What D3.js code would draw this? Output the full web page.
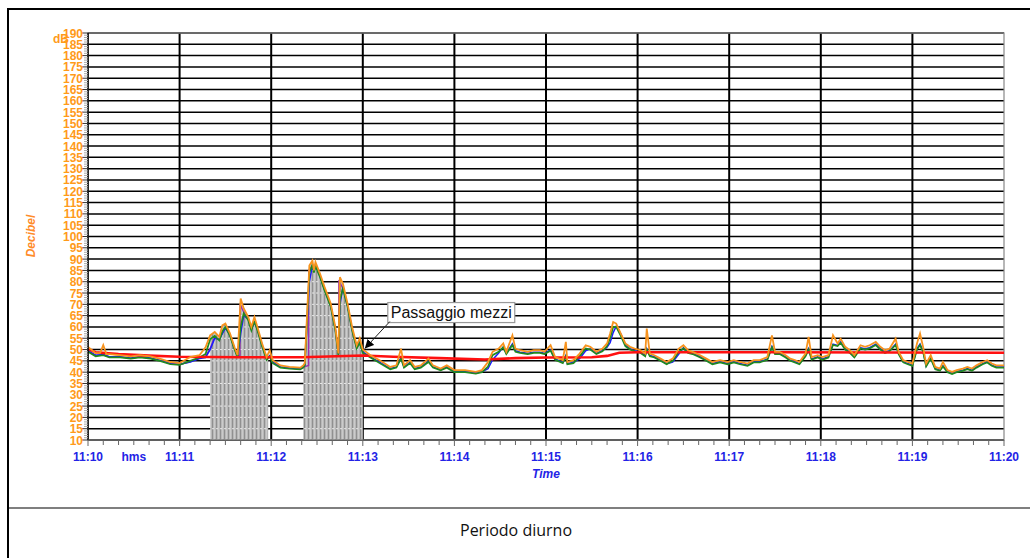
<!DOCTYPE html>
<html><head><meta charset="utf-8">
<script src="https://cdn.jsdelivr.net/npm/d3@7"></script>
<style>body{margin:0;background:#fff} svg{display:block}</style>
</head><body><svg id="c" width="1030" height="558"></svg>
<script>
// ---- data (seconds after 11:10:00, dB) ----
const orangeSeries = [[0,51.2],[5,48.4],[8,48.5],[10,52],[12,48],[14,48],[21,47.5],[28,47],[34,47.5],[41,47],[47,46],[54,44.5],[60,44],[67,46.7],[73,47.5],[77,51],[80,56.3],[83,57.8],[86,55.6],[88,60.7],[90,61.5],[93,57.2],[96,51],[98,47.5],[100,72.6],[102,68.2],[105,64.4],[107,60],[109,64.4],[111,60],[114,52.8],[117,46.7],[119,49.7],[121,45.3],[126,43],[132,42.3],[139,42],[141,43],[142,44],[145,87.2],[147,89.4],[148,85],[149,88.7],[152,83.5],[155,77.6],[159,70.4],[162,60],[164,48.3],[165,82],[167,79.1],[170,70.4],[173,60],[176,51.9],[178,55],[180,50],[185,47.5],[191,45.3],[198,42.3],[202,43],[205,50.4],[207,43],[211,45.3],[214,42.3],[218,43],[223,46],[226,43],[231,41.6],[235,43],[240,40.9],[247,40.9],[254,40.1],[258,40.9],[262,44.5],[265,49],[269,50.4],[272,52.7],[274,49],[278,56.3],[280,50.4],[283,49.7],[288,49],[292,49.7],[296,49.7],[299,49],[303,51.9],[306,46.7],[311,45.3],[313,53.4],[314,44.5],[318,45.3],[322,48.2],[326,51.9],[329,51.2],[333,49],[337,50.4],[340,52.7],[342,57.1],[344,62.2],[346,61.5],[349,57.1],[352,52.7],[355,51.2],[358,50.4],[362,49.7],[365,48.2],[366,59.3],[368,48.2],[371,47.5],[375,46],[379,44.5],[383,46],[387,50.4],[390,51.9],[393,49.7],[396,49],[401,47.5],[405,46],[409,44.5],[414,45.3],[419,44.5],[423,45.3],[427,44.5],[432,43.8],[436,45.3],[440,45.3],[445,46.7],[448,56.3],[450,49],[453,49],[457,47.5],[460,46],[463,45.3],[466,44.5],[470,48.2],[472,55.6],[474,46.7],[478,47.5],[481,46.7],[485,47.5],[488,56.3],[491,52.7],[493,54.8],[496,51.2],[499,49.7],[502,47.5],[506,51.9],[509,51.2],[512,51.9],[516,53.4],[519,51.2],[522,49.7],[525,50.4],[529,54.8],[531,49],[534,45.3],[537,44.5],[540,43.8],[543,52.7],[545,57.1],[547,51.2],[549,43.8],[552,47.5],[555,42.3],[558,41.6],[560,44.5],[563,40.9],[566,40.1],[569,40.9],[573,41.6],[576,42.3],[579,41.6],[582,43],[586,44.5],[589,45.3],[592,43.8],[595,43],[600,43]];

const greenSeries = [[0,49],[5,47],[10,47.5],[14,46.5],[21,46.5],[28,46],[34,46.5],[41,46],[47,45],[54,43.5],[60,43.2],[67,45],[73,46.5],[77,48],[80,54.5],[83,56],[86,54],[88,58],[90,60],[93,56],[96,50],[98,46.5],[100,60],[102,66],[105,63],[107,58.5],[109,62.5],[111,58.5],[114,51.5],[117,45.5],[119,47],[121,44],[126,42],[132,41.5],[139,41.2],[141,42],[142,43],[145,84],[147,87.5],[148,84],[149,87],[152,82],[155,76],[159,69],[162,58.5],[164,47.5],[165,72],[167,77],[170,69],[173,58.5],[176,50.5],[178,53],[180,48.5],[185,46.5],[191,44],[198,41.3],[202,42],[205,46],[207,42],[211,44],[214,41.3],[218,42],[223,44.5],[226,42],[231,40.8],[235,42],[240,40],[247,40],[254,39.3],[258,40],[262,42.5],[265,47.5],[269,49],[272,51],[274,48],[278,52],[280,49],[283,48.5],[288,48],[292,48.5],[296,48.5],[299,48],[303,49.5],[306,45.5],[311,44],[313,47],[314,43.5],[318,44],[322,47],[326,50.5],[329,50],[333,48],[337,49.2],[340,51.5],[342,55],[344,60],[346,60],[349,56],[352,51.5],[355,50],[358,49.2],[362,48.5],[365,47],[366,50],[368,47],[371,46.5],[375,45],[379,43.5],[383,45],[387,49],[390,50.5],[393,48.5],[396,48],[401,46.5],[405,45],[409,43.5],[414,44.3],[419,43.5],[423,44.3],[427,43.5],[432,42.8],[436,44.3],[440,44.3],[445,45.5],[448,51],[450,48],[453,48],[457,46.5],[460,45],[463,44.3],[466,43.5],[470,47],[472,50],[474,45.5],[478,46.5],[481,45.5],[485,46.5],[488,52],[491,51.5],[493,53],[496,50],[499,48.5],[502,46.5],[506,50.5],[509,50],[512,50.5],[516,52],[519,50],[522,48.5],[525,49.2],[529,52],[531,48],[534,44.3],[537,43.5],[540,42.8],[543,50],[545,52],[547,49],[549,42.5],[552,46],[555,41.3],[558,40.6],[560,42.5],[563,40],[566,39.2],[569,40],[573,40.6],[576,41.3],[579,40.6],[582,42],[586,43.5],[589,44.3],[592,42.8],[595,42],[600,42]];

const blueSeries = [[0,49.5],[5,47.5],[10,47.8],[14,46.8],[21,46.8],[28,46.3],[34,46.8],[41,46.3],[47,45.3],[54,43.8],[60,43.5],[67,44.5],[73,46],[77,46.5],[80,50],[83,55],[86,54.5],[88,57],[90,59.5],[93,56.5],[96,50.5],[98,47],[100,57],[102,65],[105,63.5],[107,59],[109,62],[111,59],[114,52],[117,46],[119,47.3],[121,44.5],[126,42.3],[132,41.8],[139,41.5],[141,42.3],[142,43.2],[145,80],[147,87],[148,84.5],[149,87.3],[152,82.5],[155,76.5],[159,69.5],[162,59],[164,47.8],[165,70],[167,77.5],[170,69.5],[173,59],[176,51],[178,53.5],[180,49],[185,46.8],[191,44.4],[198,41.6],[202,42.3],[205,46.5],[207,42.3],[211,44.4],[214,41.6],[218,42.3],[223,44.8],[226,42.3],[231,41.1],[235,42.3],[240,40.3],[247,40.3],[254,39.6],[258,40.2],[262,41.5],[265,45.5],[269,48.5],[272,51.2],[274,48.4],[278,52.5],[280,49.4],[283,48.8],[288,48.4],[292,48.8],[296,48.8],[299,48.4],[303,49.8],[306,45.8],[311,44.3],[313,47.4],[314,43.8],[318,44.3],[322,46],[326,49.5],[329,50.3],[333,48.4],[337,49.5],[340,51],[342,53],[344,57.5],[346,60.3],[349,57],[352,52],[355,50.4],[358,49.5],[362,48.8],[365,47.4],[366,50.4],[368,47.4],[371,46.8],[375,45.3],[379,43.8],[383,44.5],[387,48],[390,50.8],[393,48.8],[396,48.4],[401,46.8],[405,45.3],[409,43.8],[414,44.6],[419,43.8],[423,44.6],[427,43.8],[432,43.1],[436,44.6],[440,44.6],[445,45.8],[448,51.4],[450,48.4],[453,48.4],[457,46.8],[460,45.3],[463,44.6],[466,43.8],[470,47.4],[472,50.4],[474,45.8],[478,46.8],[481,45.8],[485,46.8],[488,52.4],[491,51.8],[493,53.4],[496,50.4],[499,48.8],[502,46.8],[506,50.8],[509,50.4],[512,50.8],[516,52.4],[519,50.4],[522,48.8],[525,49.5],[529,52.4],[531,48.4],[534,44.6],[537,43.8],[540,43.1],[543,50.4],[545,52.4],[547,49.4],[549,42.8],[552,46.4],[555,41.6],[558,40.9],[560,42.8],[563,40.3],[566,39.5],[569,40.3],[573,40.9],[576,41.6],[579,40.9],[582,42.3],[586,43.8],[589,44.6],[592,43.1],[595,42.3],[600,42.3]];

const purpleSeries = [[0,49.3],[5,47.4],[10,47.7],[14,46.7],[21,46.7],[28,46.2],[34,46.7],[41,46.2],[47,45.2],[54,43.7],[60,43.4],[67,44.6],[73,46.2],[77,47],[80,50.5],[83,55.5],[86,54.3],[88,57.5],[90,59.8],[93,56.4],[96,50.4],[98,47.2],[99.5,47.5],[99.6,70],[102,66.5],[105,63.4],[107,59],[109,62.2],[111,59],[114,52],[117,46],[119,47.2],[121,44.4],[126,42.2],[132,41.8],[139,41.4],[141,42.2],[144.5,43],[144.6,85],[147,87.2],[149,87],[152,82.3],[155,76.3],[159,69.3],[162,59],[164.2,48],[164.3,80],[167,77.3],[170,69.5],[173,58.8],[176,50.8],[178,53.3],[180,49]];

const redSeries = [[0,50.3],[5,48.8],[20,48],[40,47.3],[60,46.8],[100,46.6],[140,46.6],[180,47.4],[200,46.8],[230,46.2],[260,45.6],[280,46.2],[300,46.5],[330,46.6],[340,47.2],[348,48.6],[360,48.8],[450,48.8],[600,48.6]];

const shadeRanges = [[80,118],[141,180]];

const xTickSeconds = [0,60,120,180,240,300,360,420,480,540,600];
const xTickLabels = ["11:10","11:11","11:12","11:13","11:14","11:15","11:16","11:17","11:18","11:19","11:20"];
const yTickValues = [10,15,20,25,30,35,40,45,50,55,60,65,70,75,80,85,90,95,100,105,110,115,120,125,130,135,140,145,150,155,160,165,170,175,180,185,190];

const annotation = {t:180, v:50, text:"Passaggio mezzi"};
const caption = "Periodo diurno";

// ---- drawing ----
const svg = d3.select("#c");
const L = 88, R = 1004, T = 33, B = 440;
const x = d3.scaleLinear().domain([0,600]).range([L,R]);
const y = d3.scaleLinear().domain([10,190]).range([B,T]);
const FONT = "Liberation Sans, Arial, sans-serif";

// outer frame
svg.append("line").attr("x1",8).attr("x2",1030).attr("y1",9).attr("y2",9).attr("stroke","#000").attr("stroke-width",2);
svg.append("line").attr("x1",8).attr("x2",8).attr("y1",8).attr("y2",558).attr("stroke","#000").attr("stroke-width",2);
svg.append("line").attr("x1",8).attr("x2",1030).attr("y1",508).attr("y2",508).attr("stroke","#000").attr("stroke-width",1.2);

const defs = svg.append("defs");
const pat = defs.append("pattern").attr("id","hatch").attr("patternUnits","userSpaceOnUse").attr("width",4).attr("height",3);
pat.append("rect").attr("width",4).attr("height",3).attr("fill","#b8b8b8");
pat.append("rect").attr("x",0).attr("width",1).attr("height",3).attr("fill","#909090");
pat.append("rect").attr("x",2).attr("width",1).attr("height",3).attr("fill","#cbcbcb");
defs.append("clipPath").attr("id","plotclip").append("rect").attr("x",L).attr("y",T).attr("width",R-L).attr("height",B-T);
const sc = defs.append("clipPath").attr("id","shadeclip");
shadeRanges.forEach(r=>sc.append("rect").attr("x",x(r[0])).attr("y",T).attr("width",x(r[1])-x(r[0])).attr("height",B-T));
const area = d3.area().x(d=>x(d[0])).y0(B).y1(d=>y(d[1]));
defs.append("clipPath").attr("id","areaclip").append("path").attr("d",area(orangeSeries));

// horizontal grid
svg.append("g").selectAll("line").data(yTickValues).join("line")
  .attr("x1",L).attr("x2",R).attr("y1",d=>y(d)).attr("y2",d=>y(d))
  .attr("stroke","#000").attr("stroke-width",1.5);
// vertical grid
svg.append("g").selectAll("line").data(xTickSeconds.slice(1,-1)).join("line")
  .attr("x1",d=>x(d)).attr("x2",d=>x(d)).attr("y1",T).attr("y2",B)
  .attr("stroke","#000").attr("stroke-width",2);
// plot border
svg.append("rect").attr("x",L).attr("y",T).attr("width",R-L).attr("height",B-T)
  .attr("fill","none").attr("stroke","#888").attr("stroke-width",1.2);

// shaded area under orange
const shade = svg.append("g").attr("clip-path","url(#shadeclip)");
shade.append("path").datum(orangeSeries).attr("d",area).attr("fill","url(#hatch)");
shade.append("g").attr("clip-path","url(#areaclip)").selectAll("line").data(yTickValues).join("line")
  .attr("x1",L).attr("x2",R).attr("y1",d=>y(d)).attr("y2",d=>y(d))
  .attr("stroke","#e8e8e8").attr("stroke-width",1).attr("stroke-dasharray","2,2");

const line = d3.line().x(d=>x(d[0])).y(d=>y(d[1]));
const g = svg.append("g").attr("clip-path","url(#plotclip)");
g.append("path").datum(purpleSeries).attr("d",line).attr("fill","none").attr("stroke","#9b30b0").attr("stroke-width",1.4);
g.append("path").datum(blueSeries).attr("d",line).attr("fill","none").attr("stroke","#1a1aff").attr("stroke-width",1.5);
g.append("path").datum(greenSeries).attr("d",line).attr("fill","none").attr("stroke","#1f8a1f").attr("stroke-width",1.7);
g.append("path").datum(redSeries).attr("d",line).attr("fill","none").attr("stroke","#ff1010").attr("stroke-width",2.6);
g.append("path").datum(orangeSeries).attr("d",line).attr("fill","none").attr("stroke","#f7931e").attr("stroke-width",1.8);

// y axis
svg.append("line").attr("x1",L).attr("x2",L).attr("y1",T).attr("y2",B).attr("stroke","#000").attr("stroke-width",1.6);
svg.append("g").selectAll("line").data(d3.range(10,191,1)).join("line")
  .attr("x1",d=>d%5===0?L-6:L-4).attr("x2",L).attr("y1",d=>y(d)).attr("y2",d=>y(d))
  .attr("stroke",d=>d%5===0?"#333":"#aaa").attr("stroke-width",1);
svg.append("g").selectAll("text").data(yTickValues).join("text")
  .attr("x",L-5).attr("y",d=>y(d)+4.5).attr("text-anchor","end")
  .attr("font-family",FONT).attr("font-weight","bold").attr("font-size",12)
  .attr("fill","#ff9a1a").text(d=>d);
svg.append("text").attr("x",61).attr("y",y(187.5)+4).attr("text-anchor","middle")
  .attr("font-family",FONT).attr("font-weight","bold").attr("font-size",12)
  .attr("fill","#ff9a1a").text("dB");
svg.append("text").attr("transform",`translate(35,236) rotate(-90)`).attr("text-anchor","middle")
  .attr("font-family",FONT).attr("font-weight","bold").attr("font-style","italic").attr("font-size",12)
  .attr("fill","#ff8c2a").text("Decibel");

// x axis
svg.append("line").attr("x1",L).attr("x2",R).attr("y1",B).attr("y2",B).attr("stroke","#555").attr("stroke-width",1.2);
svg.append("g").selectAll("line").data(d3.range(0,601,10)).join("line")
  .attr("x1",d=>x(d)).attr("x2",d=>x(d)).attr("y1",B).attr("y2",d=>d%60===0?B+6:B+5)
  .attr("stroke","#666").attr("stroke-width",1);
svg.append("g").selectAll("text").data(xTickSeconds).join("text")
  .attr("x",d=>x(d)).attr("y",B+21).attr("text-anchor","middle")
  .attr("font-family",FONT).attr("font-weight","bold").attr("font-size",12)
  .attr("fill","#2323e6").text((d,i)=>xTickLabels[i]);
svg.append("text").attr("x",x(30)).attr("y",B+21).attr("text-anchor","middle")
  .attr("font-family",FONT).attr("font-weight","bold").attr("font-size",12)
  .attr("fill","#2323e6").text("hms");
svg.append("text").attr("x",x(300)).attr("y",B+38).attr("text-anchor","middle")
  .attr("font-family",FONT).attr("font-weight","bold").attr("font-style","italic").attr("font-size",12)
  .attr("fill","#2323e6").text("Time");

// annotation
const ax = x(annotation.t), ay = y(annotation.v);
const bx = ax + 25, by = ay - 47;
const tb = svg.append("g");
const tt = tb.append("text").attr("x",bx+3).attr("y",by+15).attr("font-family",FONT).attr("font-size",16).attr("fill","#111").text(annotation.text);
const bb = tt.node().getBBox();
tb.insert("rect","text").attr("x",bb.x-3).attr("y",by).attr("width",bb.width+6).attr("height",20).attr("fill","#fff").attr("stroke","#999").attr("stroke-width",1.2);
defs.append("marker").attr("id","arr").attr("viewBox","0 0 10 10").attr("refX",10).attr("refY",5).attr("markerWidth",9).attr("markerHeight",9).attr("orient","auto")
  .append("path").attr("d","M0,0L10,5L0,10z").attr("fill","#000");
svg.append("line").attr("x1",bx+2).attr("y1",by+19).attr("x2",ax+2).attr("y2",ay-1).attr("stroke","#222").attr("stroke-width",1).attr("marker-end","url(#arr)");

// caption
svg.append("text").attr("x",516).attr("y",536).attr("text-anchor","middle")
  .attr("font-family","Open Sans, sans-serif").attr("font-size",16).attr("fill","#111").text(caption);
</script></body></html>
